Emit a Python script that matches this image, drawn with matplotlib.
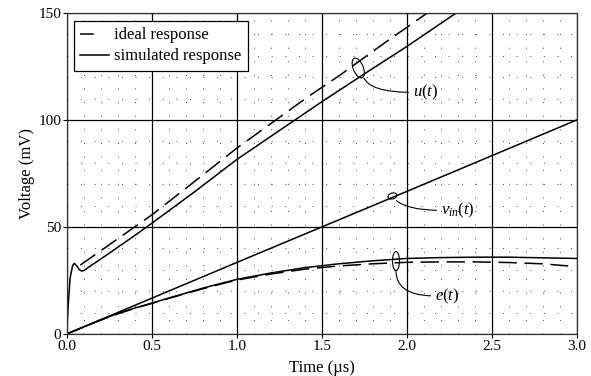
import matplotlib
matplotlib.use("Agg")
import matplotlib.pyplot as plt
import numpy as np
from matplotlib.patches import Ellipse
from matplotlib.transforms import ScaledTranslation
from matplotlib.ticker import MultipleLocator, FormatStrFormatter

plt.rcParams['font.family'] = ['Liberation Serif', 'DejaVu Serif']
plt.rcParams['mathtext.fontset'] = 'custom'
plt.rcParams['mathtext.rm'] = 'Liberation Serif'
plt.rcParams['mathtext.it'] = 'Liberation Serif:italic'

# ---------------- data ----------------
# input voltage v_in(t) (simulated)
t_vin = [0.0, 0.5, 1.0, 1.5, 2.0, 2.5, 3.0]
v_vin = [0.0, 16.7, 33.4, 50.0, 66.6, 83.3, 100.0]

# u(t) simulated response
t_u_sim = [0.0, 0.008, 0.02, 0.035, 0.045, 0.06, 0.075, 0.09, 0.105, 0.125, 0.2, 0.3,
           0.4, 0.5, 0.75, 1.0, 1.25, 1.5, 1.75, 2.0, 2.3]
v_u_sim = [0.0, 12.0, 26.0, 32.0, 33.0, 31.8, 30.0, 29.4, 29.8, 31.0, 35.0, 40.5,
           46.0, 51.7, 66.3, 81.5, 95.0, 108.5, 121.5, 134.3, 150.5]

# u(t) ideal response
t_u_ideal = [0.08, 0.5, 0.708, 1.0, 1.42, 1.608, 1.88, 2.13]
v_u_ideal = [32.2, 55.6, 68.5, 86.8, 110.9, 121.0, 136.6, 150.5]

# e(t) simulated response
t_e_sim = [0.0, 0.1, 0.2, 0.3, 0.4, 0.5, 0.6, 0.7, 0.8, 0.9, 1.0, 1.2, 1.4, 1.6,
           1.8, 2.0, 2.2, 2.4, 2.6, 2.8, 3.0]
v_e_sim = [0.0, 3.3, 6.6, 9.6, 12.1, 14.4, 16.8, 19.1, 21.4, 23.5, 25.5, 28.5, 31.0,
           32.8, 34.2, 35.3, 35.7, 35.9, 35.9, 35.6, 35.3]

# e(t) ideal response
t_e_ideal = [0.0, 0.1, 0.2, 0.3, 0.4, 0.5, 0.6, 0.7, 0.8, 0.9, 1.0, 1.2, 1.4, 1.6,
             1.8, 2.0, 2.2, 2.4, 2.6, 2.8, 2.95]
v_e_ideal = [0.0, 3.3, 6.5, 9.4, 12.0, 14.3, 16.6, 18.9, 21.1, 23.2, 25.2, 28.0, 30.3,
             31.8, 32.8, 33.5, 33.7, 33.7, 33.4, 32.8, 31.8]

legend_labels = ["ideal response", "simulated response"]
x_label = "Time (\u00b5s)"
y_label = "Voltage (mV)"

# ---------------- figure ----------------
fig = plt.figure(figsize=(5.91, 3.76), dpi=100)
ax = fig.add_axes([0.1128, 0.1117, 0.9758 - 0.1128, 0.9654 - 0.1117])

ax.set_xlim(0, 3.0)
ax.set_ylim(0, 150)
ax.xaxis.set_major_locator(MultipleLocator(0.5))
ax.xaxis.set_minor_locator(MultipleLocator(0.1))
ax.yaxis.set_major_locator(MultipleLocator(50))
ax.yaxis.set_minor_locator(MultipleLocator(10))
ax.xaxis.set_major_formatter(FormatStrFormatter('%.1f'))

ax.grid(which='major', color='black', lw=0.9, ls='-')
ax.grid(which='minor', color='#444444', lw=0.7, ls=(0, (1, 13)))
ax.set_axisbelow(True)
ax.tick_params(which='major', direction='out', length=3, width=0.8, labelsize=11,
               pad=1, colors='black')
ax.tick_params(which='minor', length=0)
for s in ax.spines.values():
    s.set_linewidth(0.9)
    s.set_color('#333333')

dash = (0, (12, 5))
lw = 1.1
ax.plot(t_vin, v_vin, color='black', lw=lw)
ax.plot(t_u_sim, v_u_sim, color='black', lw=lw)
ax.plot(t_u_ideal, v_u_ideal, color='black', lw=lw, ls=dash)
ax.plot(t_e_sim, v_e_sim, color='black', lw=lw)
ax.plot(t_e_ideal, v_e_ideal, color='black', lw=lw, ls=dash)

ax.set_xlabel(x_label, fontsize=12, labelpad=5)
ax.set_ylabel(y_label, fontsize=12, labelpad=2)

# legend
h1, = ax.plot([], [], color='black', lw=lw, ls=(0, (9, 30)))
h2, = ax.plot([], [], color='black', lw=lw)
leg = ax.legend([h1, h2], legend_labels, loc='upper left',
                bbox_to_anchor=(0.0135, 0.975), fontsize=12, frameon=True,
                fancybox=False, framealpha=1, edgecolor='black',
                handlelength=1.75, handletextpad=0.3, borderpad=0.38,
                labelspacing=0.3, borderaxespad=0)
leg.get_frame().set_linewidth(0.9)

# annotation ellipses (sizes in inches, centred on data points)
def ell(x, y, w_px, h_px, ang):
    tr = fig.dpi_scale_trans + ScaledTranslation(x, y, ax.transData)
    e = Ellipse((0, 0), w_px / 100, h_px / 100, angle=ang, transform=tr,
                fill=False, edgecolor='black', lw=0.8)
    ax.add_patch(e)

ell(1.715, 124.3, 10, 21, 22)
ell(1.916, 64.5, 9, 6, 15)
ell(1.937, 34.1, 7, 19, 0)

ann_kw = dict(fontsize=12, ha='left', va='center')
ax.annotate(r'$u(t)$', xy=(1.749, 119.6), xytext=(2.035, 112.9),
            arrowprops=dict(arrowstyle='-', lw=0.8, color='black', shrinkA=1, shrinkB=0,
                            relpos=(0, 0.5),
                            connectionstyle='angle3,angleA=0,angleB=-65'), **ann_kw)
ax.annotate(r'$v_{in}(t)$', xy=(1.94, 62.3), xytext=(2.2, 57.8),
            arrowprops=dict(arrowstyle='-', lw=0.8, color='black', shrinkA=1, shrinkB=0,
                            relpos=(0, 0.5),
                            connectionstyle='angle3,angleA=0,angleB=-40'), **ann_kw)
ax.annotate(r'$e(t)$', xy=(1.937, 29.6), xytext=(2.165, 17.8),
            arrowprops=dict(arrowstyle='-', lw=0.8, color='black', shrinkA=1, shrinkB=0,
                            relpos=(0, 0.5),
                            connectionstyle='angle3,angleA=0,angleB=-90'), **ann_kw)

fig.savefig('out.png', dpi=100)
